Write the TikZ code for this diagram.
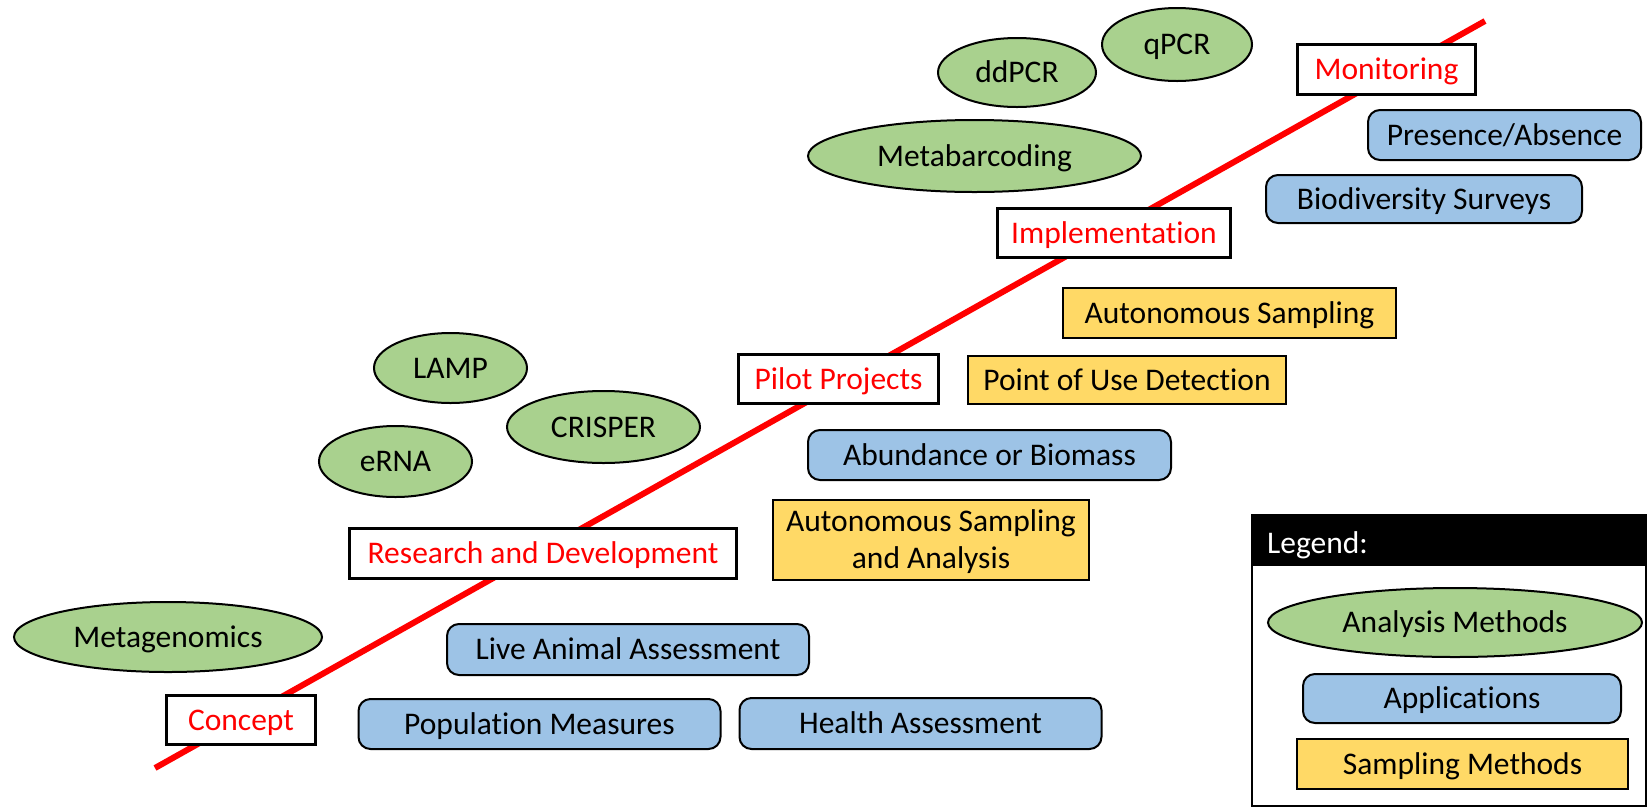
\documentclass[tikz,border=0pt]{standalone}
\usepackage{fontspec}
\setmainfont{Carlito}[Ligatures=NoCommon]
\usetikzlibrary{shapes.geometric}
\definecolor{agreen}{HTML}{A9D18E}
\definecolor{ablue}{HTML}{9DC3E6}
\definecolor{ayellow}{HTML}{FFD966}
\tikzset{
  base/.style={font=\fontsize{31.5}{37}\selectfont, inner sep=0pt, text=black,
    text height=20.3pt, text depth=0pt, align=center},
  anal/.style={base, ellipse, draw=black, line width=2pt, fill=agreen},
  appl/.style={base, rectangle, rounded corners=12pt, draw=black, line width=2pt, fill=ablue},
  samp/.style={base, rectangle, draw=black, line width=2pt, fill=ayellow},
  stagebox/.style={base, rectangle, draw=black, line width=3pt, fill=white, text=red},
  sz/.style 2 args={minimum width=#1pt, minimum height=#2pt},
  timeline/.style={draw=red, line width=6pt},
}
\begin{document}
\begin{tikzpicture}[x=1pt,y=-1pt]
\useasboundingbox[fill=white] (0,0) rectangle (1647,807);
% timeline
\coordinate (tstart) at (155,768);
\coordinate (tend) at (1485,21);
\draw[timeline] (tstart) -- (tend);
% stages
\node[stagebox, sz={149}{49}] (concept) at (241,720) {Concept};
\node[stagebox, sz={387}{50}] (rd) at (543,553.5) {Research and Development};
\node[stagebox, sz={200}{49}] (pilot) at (838.5,379) {Pilot Projects};
\node[stagebox, sz={233}{49}] (impl) at (1114,233) {Implementation};
\node[stagebox, sz={178}{50}] (monit) at (1386.5,69.5) {Monitoring};
% analysis methods
\node[anal, sz={308}{70}] (metagen) at (168,637) {Metagenomics};
\node[anal, sz={153}{71}] (erna) at (395.5,461.5) {eRNA};
\node[anal, sz={153}{70}] (lamp) at (450.5,368) {LAMP};
\node[anal, sz={193}{72}] (crisper) at (603.5,427) {CRISPER};
\node[anal, sz={333}{72}] (metabar) at (974.5,156) {Metabarcoding};
\node[anal, sz={158}{69}] (ddpcr) at (1017,72.5) {ddPCR};
\node[anal, sz={150}{73}] (qpcr) at (1177,44.5) {qPCR};
% applications
\node[appl, sz={362}{51}] (live) at (628,649.5) {Live Animal Assessment};
\node[appl, sz={362}{50}] (popul) at (539.5,724) {Population Measures};
\node[appl, sz={362}{51}] (health) at (920.5,723.5) {Health Assessment};
\node[appl, sz={363}{50}] (abund) at (989.5,455) {Abundance or Biomass};
\node[appl, sz={273}{50}] (presence) at (1504.5,135) {Presence/Absence};
\node[appl, sz={316}{48}] (biodiv) at (1424,199) {Biodiversity Surveys};
% sampling methods
\node[samp, sz={316}{80}, text height=57.3pt] (autoana) at (931,540) {Autonomous Sampling\\and Analysis};
\node[samp, sz={318}{48}] (pou) at (1127,380) {Point of Use Detection};
\node[samp, sz={333}{50}] (autosamp) at (1229.5,313) {Autonomous Sampling};
% legend
\draw[line width=2pt, fill=white] (1252,515) rectangle (1646,806);
\fill[black] (1251,514) rectangle (1647,566);
\node[base, text=white, anchor=west, inner xsep=5pt] (legtitle) at (1262,543.5) {Legend:};
\node[anal, sz={374}{69}] (leganal) at (1455,622.5) {Analysis Methods};
\node[appl, sz={318}{49}] (legappl) at (1462,698.5) {Applications};
\node[samp, sz={331}{50}] (legsamp) at (1462.5,764) {Sampling Methods};
\end{tikzpicture}
\end{document}
